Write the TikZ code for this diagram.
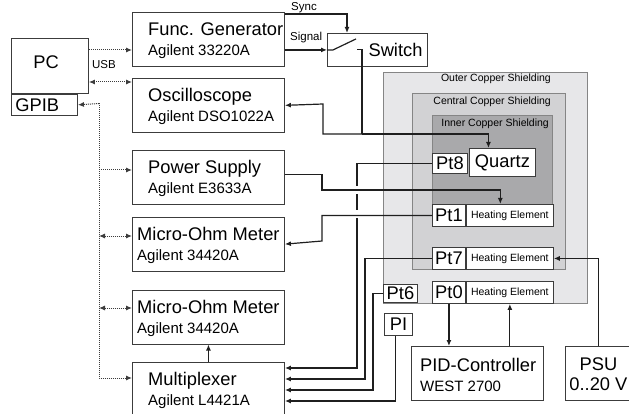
\documentclass[tikz,border=0pt]{standalone}
\usepackage{fontspec}
\setmainfont{Liberation Sans}
\usetikzlibrary{arrows.meta,positioning}
\definecolor{frame}{HTML}{3C3C3C}
\definecolor{shieldline}{HTML}{858585}
\definecolor{outercu}{HTML}{E7E7E9}
\definecolor{centralcu}{HTML}{D2D2D4}
\definecolor{innercu}{HTML}{A9A9AB}
\newcommand{\typeline}{\fontsize{15}{20}\selectfont}

\begin{document}
\begin{tikzpicture}[x=1pt,y=-1pt,>={Latex[length=6pt,width=5pt]},
    dev/.style={draw=frame,line width=0.9pt,fill=white,anchor=north west,
      minimum width=152pt,minimum height=54pt,inner sep=0pt},
    devtext/.style={anchor=west,align=left,inner sep=0pt,
      font=\fontsize{18.3}{20}\selectfont},
    ptbox/.style={draw=frame,line width=0.9pt,fill=white,anchor=north west,
      minimum width=33pt,minimum height=22pt,inner sep=0pt,
      font=\fontsize{18.3}{20}\selectfont},
    heat/.style={ptbox,anchor=west,minimum width=87pt,
      font=\fontsize{10.5}{12}\selectfont},
    shield/.style={draw=shieldline,line width=0.9pt,anchor=north west,inner sep=0pt},
    shieldlbl/.style={anchor=east,inner sep=0pt,font=\fontsize{10.5}{12}\selectfont},
    lbl/.style={inner sep=0pt,font=\fontsize{11.5}{13}\selectfont},
    wire/.style={draw=black!88,line width=1.2pt},
    bus/.style={draw=frame,densely dotted,line width=1pt}]
  \useasboundingbox (0,0) rectangle (629,414);

  \node[shield,fill=outercu,minimum width=204pt,minimum height=231pt] (outer) at (383,72) {};
  \node[shield,fill=centralcu,minimum width=153pt,minimum height=176pt] (central) at (412,93) {};
  \node[shield,fill=innercu,minimum width=120pt,minimum height=111pt] (inner) at (432,115) {};
  \node[shieldlbl] (outerlbl) at (551,79) {Outer Copper Shielding};
  \node[shieldlbl] (centrallbl) at (551,101.5) {Central Copper Shielding};
  \node[shieldlbl] (innerlbl) at (549,123.5) {Inner Copper Shielding};

  \node[draw=frame,line width=0.9pt,anchor=north west,minimum width=77pt,
        minimum height=55pt,inner sep=0pt,text width=33pt,align=left,text depth=8pt,
        font=\fontsize{18.3}{20}\selectfont] (pc) at (11,38) {PC};
  \node[draw=frame,line width=0.9pt,anchor=north west,minimum width=66pt,
        minimum height=21pt,inner sep=0pt,text width=58pt,align=left,
        font=\fontsize{18.3}{20}\selectfont] (gpib) at (pc.south west) {GPIB};

  \node[dev] (fg) at (132,12) {};
  \node[dev,below=11pt of fg] (osc) {};
  \node[dev,below=17pt of osc] (ps) {};
  \node[dev,below=12pt of ps] (mom1) {};
  \node[dev,below=18pt of mom1] (mom2) {};
  \node[dev,below=17pt of mom2] (mux) {};
  \node[devtext] (fgtext) at ([xshift=16pt,yshift=-1pt]fg.west)
    {Func. Generator\\\typeline Agilent 33220A};
  \node[devtext] (osctext) at ([xshift=16pt,yshift=-1pt]osc.west)
    {Oscilloscope\\\typeline Agilent DSO1022A};
  \node[devtext] (pstext) at ([xshift=16pt,yshift=-1pt]ps.west)
    {Power Supply\\\typeline Agilent E3633A};
  \node[devtext] (mom1text) at ([xshift=5pt,yshift=-1pt]mom1.west)
    {Micro-Ohm Meter\\\typeline Agilent 34420A};
  \node[devtext] (mom2text) at ([xshift=5pt,yshift=-1pt]mom2.west)
    {Micro-Ohm Meter\\\typeline Agilent 34420A};
  \node[devtext] (muxtext) at ([xshift=16pt,yshift=-1pt]mux.west)
    {Multiplexer\\\typeline Agilent L4421A};

  \node[draw=frame,line width=0.9pt,anchor=north west,minimum width=100pt,
        minimum height=33pt,inner sep=0pt,text width=90pt,align=right,
        font=\fontsize{18.3}{20}\selectfont] (sw) at (327,33) {Switch};

  \node[dev,minimum width=132pt] (pid) at (411,346) {};
  \node[devtext] (pidtext) at ([xshift=9pt,yshift=-1pt]pid.west)
    {PID-Controller\\\typeline WEST 2700};
  \node[dev,minimum width=66pt] (psu) at (565,346) {};
  \node[devtext,anchor=center,align=center] (psutext) at ([yshift=-1pt]psu.center)
    {PSU\\0..20 V};

  \node[ptbox,minimum width=35pt,minimum height=20pt] (pt8) at (432,153) {Pt8};
  \node[ptbox,minimum width=66pt,minimum height=28pt] (quartz) at (469,148) {Quartz};
  \node[ptbox] (pt1) at (432,204) {Pt1};
  \node[heat,right=0pt of pt1] (he1) {Heating Element};
  \node[ptbox] (pt7) at (432,247) {Pt7};
  \node[heat,right=0pt of pt7] (he7) {Heating Element};
  \node[ptbox] (pt0) at (432,281) {Pt0};
  \node[heat,right=0pt of pt0] (he0) {Heating Element};
  \node[ptbox,minimum width=34pt,minimum height=18pt] (pt6) at (383,284) {Pt6};
  \node[ptbox,minimum width=28pt] (pi) at (384,313) {PI};

  \coordinate (bus) at (99,103.5);
  \draw[bus,->] (bus) -- (gpib.east);
  \draw[bus,->] (bus) |- (mux.west |- 0,378);
  \draw[bus,->] (pc.east |- 0,50) -- (fg.west |- 0,50);
  \draw[bus,<->] (pc.east |- 0,82) -- (osc.west |- 0,82);
  \draw[bus,->] (bus |- 0,170) -- (ps.west |- 0,170);
  \draw[bus,<->] (bus |- 0,236) -- (mom1.west |- 0,236);
  \draw[bus,<->] (bus |- 0,308) -- (mom2.west |- 0,308);
  \node[lbl] (usb) at (104,65) {USB};

  \draw[wire,->] (fg.east |- 0,14) -| (347,0 |- sw.north);
  \draw[wire,->] (fg.east |- sw.west) -- (sw.west);
  \node[lbl,anchor=base west] (synclbl) at (291,11) {Sync};
  \node[lbl,anchor=base west] (signallbl) at (290,41) {Signal};

  \coordinate (swout) at (362,49.5);
  \coordinate (split) at (362,134);
  \draw[wire] (sw.west) -- ++(6,0) -- ++(23,-11);
  \draw[wire] (357,49.5) -- (swout) -- (split);
  \draw[wire,->] (split) -| ([xshift=-14pt]quartz.north);
  \draw[wire,->] (split) -| (323,104) -- (osc.east);

  \draw[wire,->] (pt8.west) -| (357,368) -- (mux.east |- 0,368);
  \draw[white,line width=3pt] (357,186) -- (357,194);
  \draw[white,line width=3pt] (357,210) -- (357,218);
  \draw[wire,->] ([yshift=2.5pt]ps.east) -| (322,190) -| ([xshift=-9.5pt]he1.north);
  \draw[wire,->] (pt1.west) -| (322,241) -- (mom1.east);
  \draw[wire,->] (pt7.west) -| (365,379) -- (mux.east |- 0,379);
  \draw[wire,->] (pt6.west) -| (373,390) -- (mux.east |- 0,390);
  \draw[wire,->] ([xshift=-3pt]pi.south) |- (mux.east |- 0,401);
  \draw[wire,->] (mux.north) -- (mom2.south);
  \draw[wire,->] (pt0.south) -- (pt0.south |- pid.north);
  \draw[wire,->] (he0.south |- pid.north) -- (he0.south);
  \draw[wire,->] (psu.north) |- (he7.east);
\end{tikzpicture}
\end{document}
